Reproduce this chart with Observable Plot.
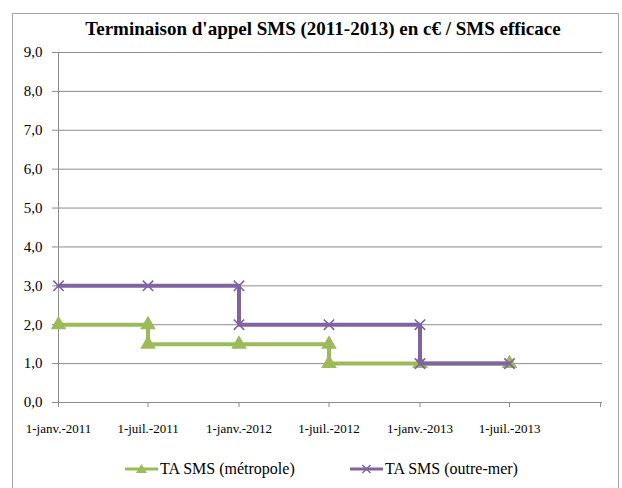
<!DOCTYPE html>
<html>
<head>
<meta charset="utf-8">
<script src="https://cdn.jsdelivr.net/npm/d3@7"></script>
<script src="https://cdn.jsdelivr.net/npm/@observablehq/plot@0.6"></script>
<style>
  html, body { margin: 0; padding: 0; background: #fff; overflow: hidden; }
  #wrap { position: relative; width: 622px; height: 488px; overflow: hidden; }
  #border { position: absolute; left: 12px; top: 13px; width: 605px; height: 500px; border: 1px solid #a6a6a6; }
  #title { position: absolute; left: 12px; width: 622px; top: 18px; text-align: center; font-weight: bold; font-size: 19px; color: #000; white-space: nowrap; }
  #chart { position: absolute; left: 0; top: 0; }
  .item { position: absolute; top: 459px; height: 20px; display: flex; align-items: center; font-size: 16px; color: #000; white-space: nowrap; }
  .item svg { margin-right: 2px; }
</style>
</head>
<body>
<div id="wrap" style="font-family:'Liberation Serif', serif">
  <div id="border"></div>
  <div id="chart"></div>
  <div id="title" style="font-family:'Liberation Serif', serif">Terminaison d'appel SMS (2011-2013) en c€ / SMS efficace</div>
  <div id="legend"></div>
</div>
<script>
// ---- data ----
const seriesNames = ["TA SMS (métropole)", "TA SMS (outre-mer)"];
const seriesColors = ["#9BBB59", "#8064A2"];

const metroDates  = ["2011-01-01","2011-07-01","2011-07-01","2012-01-01","2012-07-01","2012-07-01","2013-01-01","2013-07-01"];
const metroValues = [2.0, 2.0, 1.5, 1.5, 1.5, 1.0, 1.0, 1.0];

const omDates  = ["2011-01-01","2011-07-01","2012-01-01","2012-01-01","2012-07-01","2013-01-01","2013-01-01","2013-07-01"];
const omValues = [3.0, 3.0, 3.0, 2.0, 2.0, 2.0, 1.0, 1.0];

const xTickDates  = ["2011-01-01","2011-07-01","2012-01-01","2012-07-01","2013-01-01","2013-07-01","2014-01-01"];
const xTickLabels = ["1-janv.-2011","1-juil.-2011","1-janv.-2012","1-juil.-2012","1-janv.-2013","1-juil.-2013",""];

const yTicks      = [0,1,2,3,4,5,6,7,8,9];
const yTickLabels = ["0,0","1,0","2,0","3,0","4,0","5,0","6,0","7,0","8,0","9,0"];

// ---- build ----
const parse = s => new Date(s + "T00:00:00Z");
const metro = metroDates.map((d, i) => ({date: parse(d), value: metroValues[i]}));
const om = omDates.map((d, i) => ({date: parse(d), value: omValues[i]}));
const xTicks = xTickDates.map(parse);
const xLabelMap = new Map(xTicks.map((d, i) => [d.getTime(), xTickLabels[i]]));
const yLabelMap = new Map(yTicks.map((d, i) => [d, yTickLabels[i]]));

const grid = "#8c8c8c";
const serif = "'Liberation Serif', serif";

const chart = Plot.plot({
  width: 622,
  height: 488,
  marginLeft: 52,
  marginRight: 20,
  marginTop: 52,
  marginBottom: 86,
  style: {fontFamily: serif, background: "transparent", color: "#000"},
  x: {type: "utc", domain: [xTicks[0], xTicks[xTicks.length - 1]], range: [58, 600]},
  y: {domain: [0, 9], range: [402, 52]},
  marks: [
    Plot.ruleY(yTicks, {stroke: grid, strokeWidth: 1, strokeOpacity: 1}),
    Plot.ruleX([xTicks[0]], {y1: 0, y2: 9, stroke: grid, strokeWidth: 1}),
    Plot.axisY(yTicks, {label: null, tickSize: 0, tickPadding: 10, fontSize: 15, fontFamily: serif, tickFormat: d => yLabelMap.get(d)}),
    Plot.axisX(xTicks, {label: null, tickSize: 5, tickPadding: 16, fontSize: 13, fontFamily: serif, stroke: grid, strokeOpacity: 1, tickFormat: d => xLabelMap.get(d.getTime())}),
    Plot.line(metro, {x: "date", y: "value", stroke: seriesColors[0], strokeWidth: 4, curve: "linear"}),
    Plot.dot(metro, {x: "date", y: "value", symbol: "triangle", r: 5.8, fill: seriesColors[0], stroke: "none"}),
    Plot.line(om, {x: "date", y: "value", stroke: seriesColors[1], strokeWidth: 4, curve: "linear"}),
    Plot.dot(om, {x: "date", y: "value", symbol: "times", r: 4.8, stroke: seriesColors[1], strokeWidth: 1.6})
  ]
});
d3.select(chart).selectAll("text").style("font-family", serif);
document.getElementById("chart").appendChild(chart);

// ---- legend ----
const legend = document.getElementById("legend");
const legendLeft = [125, 350];
seriesNames.forEach((name, i) => {
  const item = document.createElement("div");
  item.className = "item";
  item.style.left = legendLeft[i] + "px";
  item.style.fontFamily = serif;
  const sym = i === 0
    ? `<path d="M16.5,4 L22,13 L11,13 Z" fill="${seriesColors[0]}"/>`
    : `<path d="M12.5,5 L20.5,13 M20.5,5 L12.5,13" stroke="${seriesColors[1]}" stroke-width="1.5"/>`;
  item.innerHTML = `<svg width="33" height="18"><line x1="0" x2="33" y1="9" y2="9" stroke="${seriesColors[i]}" stroke-width="3"/>${sym}</svg><span style="font-family:'Liberation Serif', serif">${name}</span>`;
  legend.appendChild(item);
});
</script>
</body>
</html>
